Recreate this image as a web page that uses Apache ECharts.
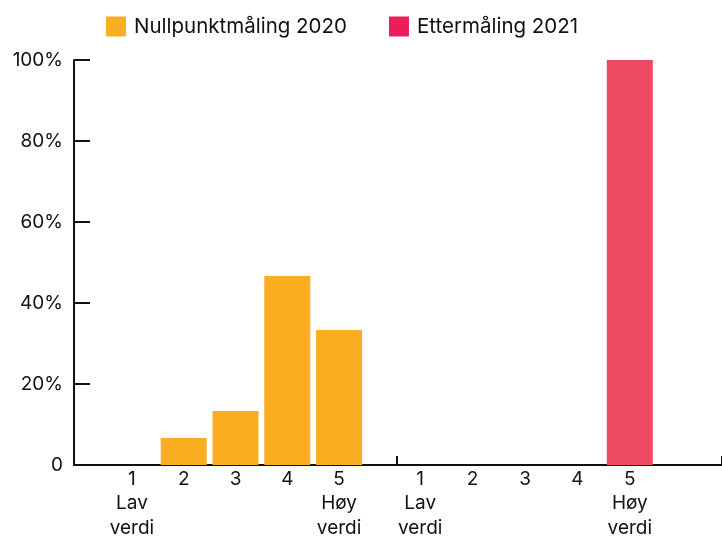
<!DOCTYPE html>
<html>
<head>
<meta charset="utf-8">
<script src="https://cdn.jsdelivr.net/npm/echarts@6/dist/echarts.min.js"></script>
<style>
  html, body { margin: 0; padding: 0; background: #fff; }
  #main { width: 722px; height: 538px; }
</style>
</head>
<body>
<div id="main"></div>
<script>
// data
var categories = ['1\nLav\nverdi', '2', '3', '4', '5\nHøy\nverdi'];
var seriesNames = ['Nullpunktmåling 2020', 'Ettermåling 2021'];
var values2020 = [0, 6.67, 13.33, 46.67, 33.33];
var values2021 = [0, 0, 0, 0, 100];
var yTicks = [0, 20, 40, 60, 80, 100];

var font = 'Inter, "Noto Sans", sans-serif';
var ink = '#111';
var yellow = '#F9AE22';
var red = '#EC4A62';

var chart = echarts.init(document.getElementById('main'));

var hiddenY = function (i) {
  return { type: 'value', gridIndex: i, min: 0, max: 100, show: false };
};

var catLabel = { fontSize: 19, lineHeight: 24.5, color: ink, margin: 2, interval: 0, fontFamily: font };

var option = {
  animation: false,
  textStyle: { fontFamily: font },
  legend: {
    left: 101,
    top: 11,
    itemWidth: 20,
    itemHeight: 20,
    itemGap: 42,
    icon: 'rect',
    textStyle: { fontSize: 20.5, color: ink, fontFamily: font, padding: [0, 0, 0, 3] },
    data: [
      { name: seriesNames[0], itemStyle: { color: yellow } },
      { name: seriesNames[1], itemStyle: { color: '#E91E5A' } }
    ]
  },
  grid: [
    { left: 74, right: 325, top: 60, bottom: 73, outerBoundsMode: 'none' },   // venstre ramme
    { left: 397, right: 0, top: 60, bottom: 73, outerBoundsMode: 'none' },    // høyre ramme
    { left: 106, right: 357, top: 60, bottom: 73, outerBoundsMode: 'none' },  // 2020-stolper
    { left: 394, right: 66, top: 60, bottom: 73, outerBoundsMode: 'none' }    // 2021-stolper
  ],
  xAxis: [
    {
      type: 'value', gridIndex: 0, min: 0, max: 1,
      axisLine: { show: true, lineStyle: { color: ink, width: 2 } },
      axisTick: { show: false }, axisLabel: { show: false }, splitLine: { show: false }
    },
    {
      type: 'value', gridIndex: 1, min: 0, max: 1, interval: 1,
      axisLine: { show: true, lineStyle: { color: ink, width: 2 } },
      axisTick: { show: true, inside: true, length: 9, lineStyle: { color: ink, width: 2 } },
      axisLabel: { show: false }, splitLine: { show: false }
    },
    {
      type: 'category', gridIndex: 2, data: categories,
      axisLine: { show: false }, axisTick: { show: false },
      axisLabel: catLabel
    },
    {
      type: 'category', gridIndex: 3, data: categories,
      axisLine: { show: false }, axisTick: { show: false },
      axisLabel: catLabel
    }
  ],
  yAxis: [
    {
      type: 'value', gridIndex: 0, min: yTicks[0], max: yTicks[yTicks.length - 1], interval: 20,
      axisLine: { show: true, lineStyle: { color: ink, width: 2 } },
      axisTick: { show: true, inside: true, length: 16, lineStyle: { color: ink, width: 2 } },
      splitLine: { show: false },
      axisLabel: {
        fontSize: 19, color: ink, margin: 11, fontFamily: font,
        formatter: function (v) { return v === 0 ? '0' : v + '%'; }
      }
    },
    hiddenY(1),
    hiddenY(2),
    hiddenY(3)
  ],
  series: [
    {
      name: seriesNames[0], type: 'bar', xAxisIndex: 2, yAxisIndex: 2,
      barWidth: 46, data: values2020, itemStyle: { color: yellow }
    },
    {
      name: seriesNames[1], type: 'bar', xAxisIndex: 3, yAxisIndex: 3,
      barWidth: 46, data: values2021, itemStyle: { color: red }
    }
  ]
};

chart.setOption(option);
</script>
</body>
</html>
